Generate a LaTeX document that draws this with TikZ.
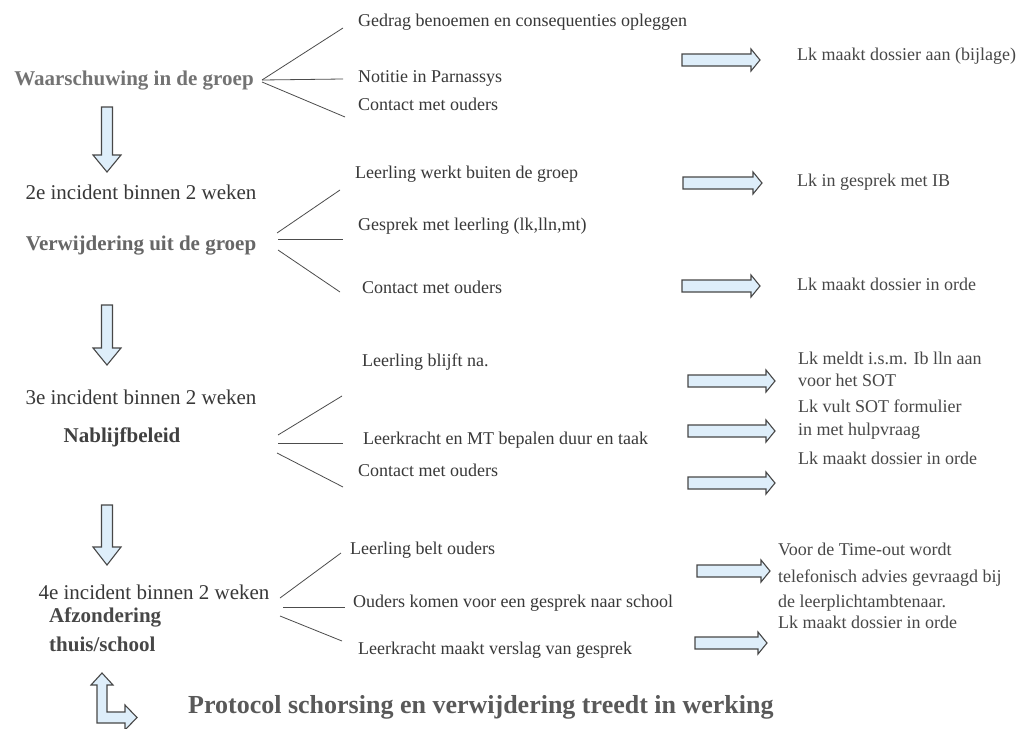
\documentclass[tikz,border=0pt]{standalone}
\usepackage{fontspec}
\setmainfont{Liberation Serif}
\definecolor{arrowfill}{RGB}{222,238,250}
\begin{document}
\begin{tikzpicture}[x=1pt,y=-1pt,
  bigtxt/.style={font=\fontsize{21}{24}\selectfont, text=black!78, inner sep=0pt},
  boldlbl/.style={font=\fontsize{21}{24}\selectfont\bfseries, inner sep=0pt},
  fantxt/.style={font=\fontsize{18}{21}\selectfont, text=black!78, inner sep=0pt, anchor=mid west},
  righttxt/.style={font=\fontsize{18}{21}\selectfont, text=black!72, inner sep=0pt, anchor=mid west},
  fanline/.style={draw=black!70, line width=0.8pt},
  blockarrow/.style={draw=black!72, fill=arrowfill, line width=1.1pt, line join=miter}
]
\useasboundingbox (0,0) rectangle (1030,728);
\fill[white] (0,0) rectangle (1030,728);

\newcommand\BlockR[3]{%
  \draw[blockarrow] (#1,#3-6) -- (#2-9,#3-6) -- (#2-9,#3-11) -- (#2,#3) -- (#2-9,#3+11) -- (#2-9,#3+6) -- (#1,#3+6) -- cycle;}
\newcommand\BlockD[3]{%
  \draw[blockarrow] (107-5.5,#1) -- (107+5.5,#1) -- (107+5.5,#2) -- (107+14,#2) -- (107,#3) -- (107-14,#2) -- (107-5.5,#2) -- cycle;}

% ---- left column labels
\node[boldlbl, text=black!55] (w1) at (134,81) {Waarschuwing in de groep};
\node[bigtxt] (i2) at (141,192) {2e incident binnen 2 weken};
\node[boldlbl, text=black!60] (v2) at (141,246) {Verwijdering uit de groep};
\node[bigtxt] (i3) at (141,397) {3e incident binnen 2 weken};
\node[boldlbl, text=black!75] (n3) at (122,437) {Nablijfbeleid};
\node[bigtxt] (i4) at (154,592) {4e incident binnen 2 weken};
\node[boldlbl, text=black!72, anchor=mid west] (a4) at (49,620) {Afzondering};
\node[boldlbl, text=black!72, anchor=mid west] (t4) at (49,649) {thuis/school};
\node[font=\fontsize{26}{30}\selectfont\bfseries, text=black!65, inner sep=0pt, anchor=mid west] (prot) at (188,711) {Protocol schorsing en verwijdering treedt in werking};

% ---- down arrows
\BlockD{107}{155}{172}
\BlockD{305}{348}{365}
\BlockD{505}{547}{565}

% ---- L arrow
\draw[blockarrow] (102,673) -- (113,685) -- (107,685) -- (107,712) -- (125,712) -- (125,705) -- (137,717.5) -- (125,730) -- (125,723) -- (97,723) -- (97,685) -- (91,685) -- cycle;

% ---- fan texts
\node[fantxt] (f11) at (358,24) {Gedrag benoemen en consequenties opleggen};
\node[fantxt] (f12) at (358,80) {Notitie in Parnassys};
\node[fantxt] (f13) at (358,108) {Contact met ouders};
\node[fantxt] (f21) at (355,176) {Leerling werkt buiten de groep};
\node[fantxt] (f22) at (358,228) {Gesprek met leerling (lk,lln,mt)};
\node[fantxt] (f23) at (362,291) {Contact met ouders};
\node[fantxt] (f31) at (362,364) {Leerling blijft na.};
\node[fantxt] (f32) at (363,442) {Leerkracht en MT bepalen duur en taak};
\node[fantxt] (f33) at (358,474) {Contact met ouders};
\node[fantxt] (f41) at (350,552) {Leerling belt ouders};
\node[fantxt] (f42) at (353,605) {Ouders komen voor een gesprek naar school};
\node[fantxt] (f43) at (358,652) {Leerkracht maakt verslag van gesprek};

% ---- fan lines
\coordinate (p1) at (262,80);
\draw[fanline] (p1) -- (343,28);
\draw[fanline] (p1) -- (343,79);
\draw[fanline] (262,82) -- (345,117);
\draw[fanline] (277,233) -- (340,190);
\draw[fanline] (278,239) -- (343,239);
\draw[fanline] (278,250) -- (340,292);
\draw[fanline] (278,435) -- (342,396);
\draw[fanline] (278,443) -- (343,443);
\draw[fanline] (277,453) -- (343,487);
\draw[fanline] (280,598) -- (341,553);
\draw[fanline] (283,607) -- (345,607);
\draw[fanline] (280,616) -- (342,641);

% ---- right arrows
\BlockR{682}{760}{60}
\BlockR{683}{762}{183}
\BlockR{682}{760}{286}
\BlockR{688}{775}{381}
\BlockR{688}{775}{431}
\BlockR{688}{775}{483}
\BlockR{697}{770}{571}
\BlockR{695}{767}{643}

% ---- right texts
\node[righttxt] (r1) at (797,58) {Lk maakt dossier aan (bijlage)};
\node[righttxt] (r2) at (797,184) {Lk in gesprek met IB};
\node[righttxt] (r3) at (797,288) {Lk maakt dossier in orde};
\node[righttxt] (r4a) at (798,362) {Lk meldt i.s.m. Ib lln aan};
\node[righttxt] (r4b) at (798,384) {voor het SOT};
\node[righttxt] (r5a) at (798,410) {Lk vult SOT formulier};
\node[righttxt] (r5b) at (798,433) {in met hulpvraag};
\node[righttxt] (r6) at (798,462) {Lk maakt dossier in orde};
\node[righttxt] (r7a) at (778,553) {Voor de Time-out wordt};
\node[righttxt] (r7b) at (778,580) {telefonisch advies gevraagd bij};
\node[righttxt] (r7c) at (778,605) {de leerplichtambtenaar.};
\node[righttxt] (r8) at (778,626) {Lk maakt dossier in orde};
\end{tikzpicture}
\end{document}
